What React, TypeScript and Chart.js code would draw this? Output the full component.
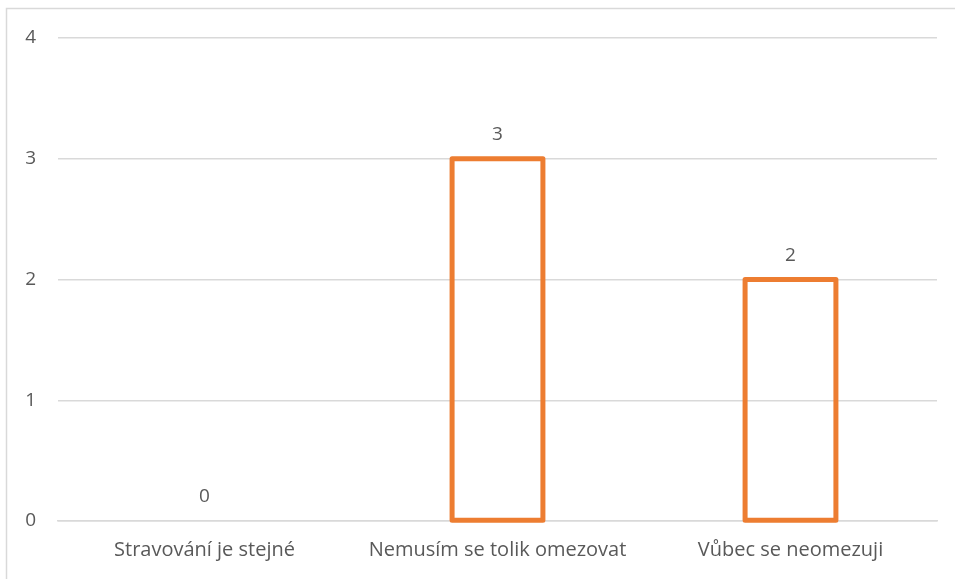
import React, { useEffect, useRef } from "react";
import { Chart, registerables } from "chart.js";

Chart.register(...registerables);

const categories = ["Stravování je stejné", "Nemusím se tolik omezovat", "Vůbec se neomezuji"];
const counts = [0, 3, 2];
const yTicks = [0, 1, 2, 3, 4];

const ORANGE = "#ED7D31";
const TEXT = "#595959";
const GRID = "#D9D9D9";
const FONT = "'Open Sans', sans-serif";
const FONT_SIZE = 20;

// Outer frame of the chart (left and top edges)
const framePlugin = {
  id: "frame",
  beforeDraw(chart: any) {
    const { ctx, width, height } = chart;
    ctx.save();
    ctx.strokeStyle = GRID;
    ctx.lineWidth = 1.5;
    ctx.beginPath();
    ctx.moveTo(6.5, height);
    ctx.lineTo(6.5, 8.5);
    ctx.lineTo(width, 8.5);
    ctx.stroke();
    ctx.restore();
  },
};

// Outlined bars: stroke centred on each bar's edges, then the value above it
const outlinePlugin = {
  id: "outline",
  afterDatasetsDraw(chart: any) {
    const { ctx } = chart;
    const meta = chart.getDatasetMeta(0);
    const data = chart.data.datasets[0].data as number[];
    ctx.save();
    meta.data.forEach((el: any, i: number) => {
      const v = data[i];
      const left = el.x - el.width / 2;
      const right = el.x + el.width / 2;
      if (v > 0) {
        ctx.strokeStyle = ORANGE;
        ctx.lineWidth = 5;
        ctx.lineJoin = "round";
        ctx.strokeRect(left, el.y, right - left, el.base - el.y);
      }
      ctx.fillStyle = TEXT;
      ctx.font = `19px ${FONT}`;
      ctx.textAlign = "center";
      ctx.textBaseline = "middle";
      ctx.fillText(String(v), el.x, el.y - 24);
    });
    ctx.restore();
  },
};

export default function App() {
  const canvasRef = useRef<HTMLCanvasElement | null>(null);

  useEffect(() => {
    document.body.style.margin = "0";
    const chart = new Chart(canvasRef.current!, {
      type: "bar",
      data: {
        labels: categories,
        datasets: [
          {
            data: counts,
            backgroundColor: "rgba(0,0,0,0)",
            borderWidth: 0,
            barPercentage: 0.5,
            categoryPercentage: 0.62,
          },
        ],
      },
      options: {
        animation: false,
        responsive: false,
        maintainAspectRatio: false,
        layout: { padding: { top: 38, right: 18, bottom: 0, left: 0 } },
        plugins: { legend: { display: false }, tooltip: { enabled: false } },
        scales: {
          x: {
            grid: { display: false, drawTicks: false },
            border: { display: true, color: GRID, width: 1.5 },
            ticks: {
              color: TEXT,
              font: { family: FONT, size: FONT_SIZE },
              padding: 17,
              maxRotation: 0,
              autoSkip: false,
            },
            afterFit(scale: any) {
              scale.height = 58;
            },
          },
          y: {
            min: 0,
            max: 4,
            afterBuildTicks(scale: any) {
              scale.ticks = yTicks.map((v) => ({ value: v }));
            },
            grid: { color: GRID, lineWidth: 1.5, drawTicks: false },
            border: { display: false },
            ticks: {
              color: TEXT,
              font: { family: FONT, size: 19 },
              padding: 22,
            },
            afterFit(scale: any) {
              scale.width = 58;
            },
          },
        },
      },
      plugins: [framePlugin, outlinePlugin],
    });
    return () => chart.destroy();
  }, []);

  return (
    <div style={{ position: "absolute", left: 0, top: 0, width: 955, height: 579, background: "#fff" }}>
      <canvas ref={canvasRef} width={955} height={579} />
    </div>
  );
}
